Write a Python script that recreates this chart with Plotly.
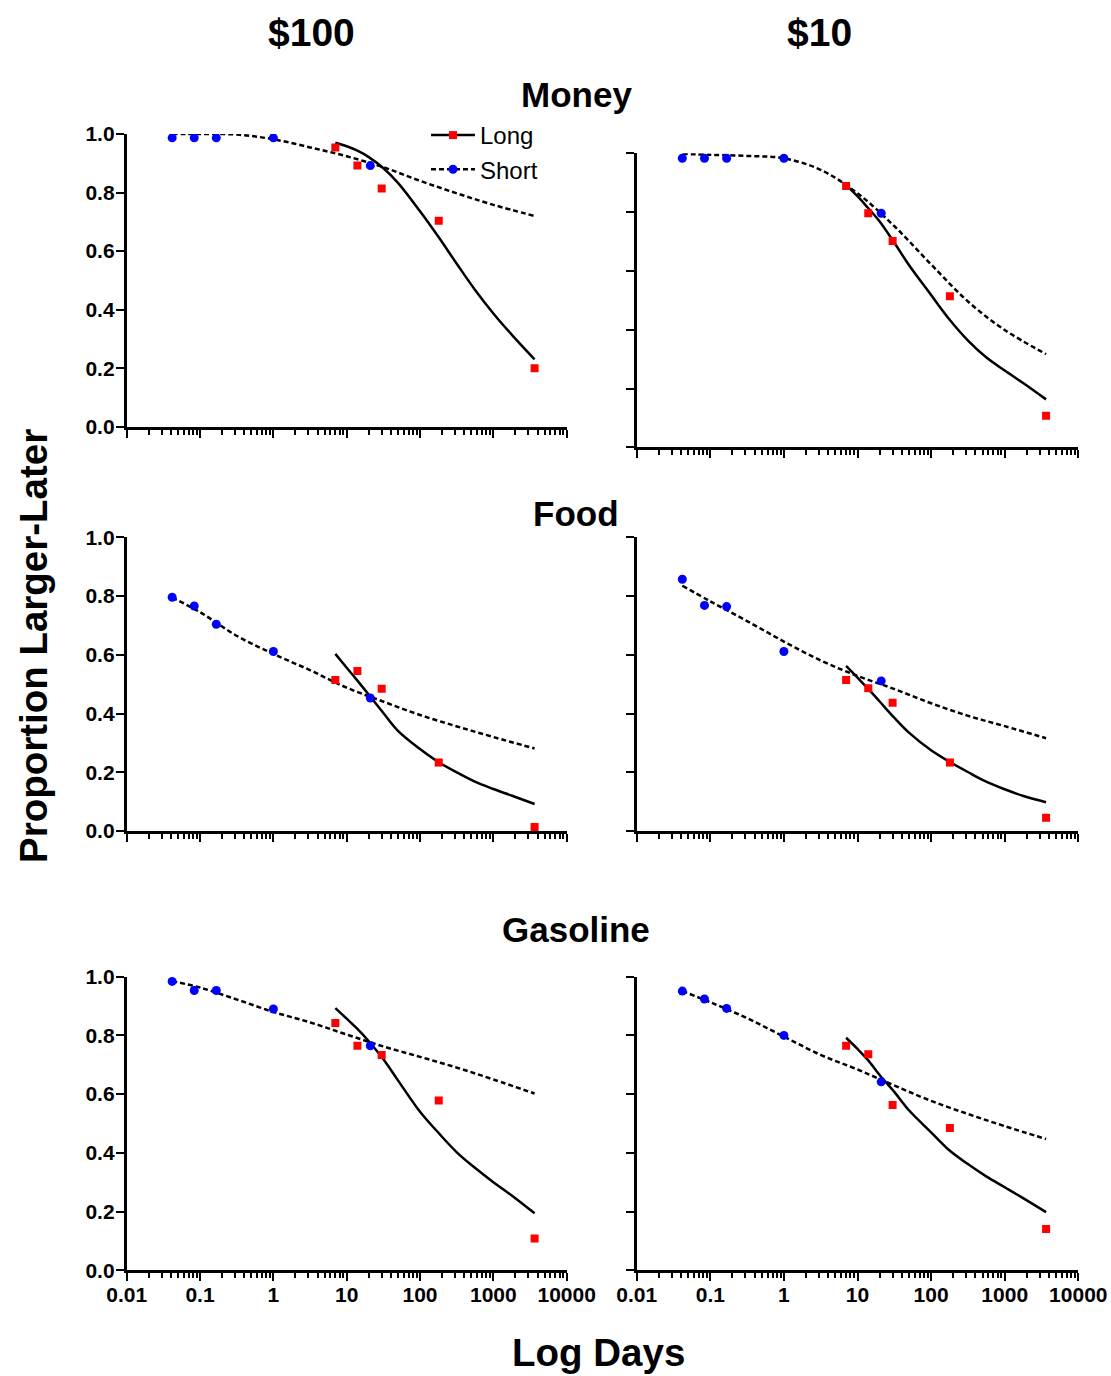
import plotly.graph_objects as go

W, H = 1111, 1376

# ---------------- data ----------------
short_days = [1/24, 1/12, 1/6, 1, 21]
long_days = [7, 14, 30, 180, 3650]

short_fit_days = [0.0417, 0.1, 0.32, 1, 3.2, 10, 32, 100, 320, 1000, 3650]
long_fit_days = [7, 10, 14, 20, 32, 50, 100, 180, 320, 560, 1000, 1800, 3650]

money100_short = [0.987, 0.987, 0.987, 0.987, 0.892]
money100_long = [0.954, 0.892, 0.814, 0.704, 0.200]
money10_short = [0.983, 0.983, 0.983, 0.983, 0.796]
money10_long = [0.889, 0.796, 0.702, 0.514, 0.107]
food100_short = [0.796, 0.766, 0.704, 0.611, 0.453]
food100_long = [0.514, 0.545, 0.484, 0.233, 0.014]
food10_short = [0.857, 0.768, 0.764, 0.611, 0.511]
food10_long = [0.514, 0.486, 0.437, 0.233, 0.045]
gas100_short = [0.984, 0.953, 0.953, 0.890, 0.765]
gas100_long = [0.842, 0.765, 0.733, 0.578, 0.108]
gas10_short = [0.951, 0.924, 0.892, 0.800, 0.642]
gas10_long = [0.765, 0.736, 0.563, 0.485, 0.141]

money100_short_fit = [1.000, 1.000, 0.998, 0.982, 0.954, 0.924, 0.886, 0.840, 0.797, 0.758, 0.720]
money100_long_fit = [0.970, 0.958, 0.943, 0.921, 0.882, 0.833, 0.736, 0.647, 0.555, 0.468, 0.387, 0.313, 0.230]
money10_short_fit = [0.998, 0.995, 0.991, 0.983, 0.943, 0.864, 0.751, 0.622, 0.495, 0.399, 0.317]
money10_long_fit = [0.892, 0.854, 0.813, 0.768, 0.694, 0.620, 0.518, 0.433, 0.362, 0.306, 0.261, 0.218, 0.163]
food100_short_fit = [0.795, 0.745, 0.664, 0.603, 0.547, 0.488, 0.440, 0.395, 0.356, 0.320, 0.281]
food100_long_fit = [0.603, 0.556, 0.512, 0.464, 0.400, 0.341, 0.279, 0.234, 0.199, 0.168, 0.143, 0.120, 0.092]
food10_short_fit = [0.835, 0.782, 0.714, 0.645, 0.580, 0.528, 0.483, 0.435, 0.392, 0.357, 0.316]
food10_long_fit = [0.562, 0.522, 0.484, 0.441, 0.384, 0.335, 0.275, 0.235, 0.200, 0.168, 0.142, 0.119, 0.098]
gas100_short_fit = [0.985, 0.963, 0.922, 0.880, 0.844, 0.803, 0.762, 0.727, 0.690, 0.650, 0.602]
gas100_long_fit = [0.893, 0.857, 0.822, 0.780, 0.717, 0.647, 0.540, 0.467, 0.401, 0.349, 0.300, 0.254, 0.194]
gas10_short_fit = [0.951, 0.913, 0.858, 0.796, 0.733, 0.684, 0.629, 0.577, 0.532, 0.491, 0.447]
gas10_long_fit = [0.792, 0.754, 0.715, 0.665, 0.606, 0.545, 0.470, 0.407, 0.361, 0.320, 0.283, 0.245, 0.198]

x_tickvals = [0.01, 0.1, 1, 10, 100, 1000, 10000]
x_ticktext = ["0.01", "0.1", "1", "10", "100", "1000", "10000"]
y_tickvals = [0, 0.2, 0.4, 0.6, 0.8, 1.0]
y_ticktext = ["0.0", "0.2", "0.4", "0.6", "0.8", "1.0"]

column_titles = ["$100", "$10"]
row_titles = ["Money", "Food", "Gasoline"]

panels = [
    (money100_short, money100_long, money100_short_fit, money100_long_fit),
    (money10_short, money10_long, money10_short_fit, money10_long_fit),
    (food100_short, food100_long, food100_short_fit, food100_long_fit),
    (food10_short, food10_long, food10_short_fit, food10_long_fit),
    (gas100_short, gas100_long, gas100_short_fit, gas100_long_fit),
    (gas10_short, gas10_long, gas10_short_fit, gas10_long_fit),
]

# ---------------- layout helpers (pixel -> paper) ----------------
def fx(p):
    return p / W

def fy(p):
    return 1 - p / H

col_x = [(126.7, 566.7), (636.7, 1078.3)]
# (top, bottom) pixel of each panel
panel_y = [(134.0, 426.7), (153.3, 447.3),
           (537.3, 831.0), (537.3, 831.0),
           (976.7, 1270.3), (976.7, 1270.3)]

FONT = "Arial, Liberation Sans, sans-serif"
BLUE = "#0000FF"
RED = "#FF0000"
DOT = "5px,3px"
TICK_SIZE = 21

fig = go.Figure()

for i, (s_pts, l_pts, s_fit, l_fit) in enumerate(panels):
    ax = "" if i == 0 else str(i + 1)
    xa, ya = "x" + ax, "y" + ax
    fig.add_trace(go.Scatter(x=short_fit_days, y=s_fit, mode="lines",
                             line=dict(color="black", width=2.5, dash=DOT,
                                       shape="spline", smoothing=1.0),
                             xaxis=xa, yaxis=ya, showlegend=False, hoverinfo="skip"))
    fig.add_trace(go.Scatter(x=long_fit_days, y=l_fit, mode="lines",
                             line=dict(color="black", width=2.5,
                                       shape="spline", smoothing=1.0),
                             xaxis=xa, yaxis=ya, showlegend=False, hoverinfo="skip"))
    fig.add_trace(go.Scatter(x=short_days, y=s_pts, mode="markers",
                             marker=dict(color=BLUE, size=9, symbol="circle"),
                             xaxis=xa, yaxis=ya, showlegend=False))
    fig.add_trace(go.Scatter(x=long_days, y=l_pts, mode="markers",
                             marker=dict(color=RED, size=8, symbol="square"),
                             xaxis=xa, yaxis=ya, showlegend=False))

# legend entries
fig.add_trace(go.Scatter(x=[None], y=[None], mode="lines+markers", name="Long",
                         line=dict(color="black", width=2.5),
                         marker=dict(color=RED, size=8, symbol="square")))
fig.add_trace(go.Scatter(x=[None], y=[None], mode="lines+markers", name="Short",
                         line=dict(color="black", width=2.5, dash=DOT),
                         marker=dict(color=BLUE, size=9, symbol="circle")))

layout = dict(
    width=W, height=H, autosize=False,
    margin=dict(l=0, r=0, t=0, b=0, pad=0, autoexpand=False),
    paper_bgcolor="white", plot_bgcolor="white",
    font=dict(family=FONT, color="black"),
    showlegend=True,
    legend=dict(x=fx(426), y=fy(113), xanchor="left", yanchor="top",
                bgcolor="rgba(0,0,0,0)", font=dict(size=24, family=FONT),
                itemwidth=44, tracegroupgap=0),
)

for i in range(6):
    r, c = divmod(i, 2)
    ax = "" if i == 0 else str(i + 1)
    top, bot = panel_y[i]
    layout["xaxis" + ax] = dict(
        type="log", range=[-2, 4], domain=[fx(col_x[c][0]), fx(col_x[c][1])],
        anchor="y" + ax, showline=True, linecolor="black", linewidth=2.7,
        ticks="outside", ticklen=8, tickwidth=2, tickcolor="black",
        tickvals=x_tickvals, ticktext=x_ticktext, showticklabels=(r == 2),
        tickfont=dict(size=TICK_SIZE, family=FONT, weight="bold"),
        ticklabelstandoff=-4,
        showgrid=False, zeroline=False, automargin=False,
        minor=dict(ticks="outside", ticklen=5, tickwidth=1.8, tickcolor="black",
                   dtick="D1", showgrid=False),
    )
    layout["yaxis" + ax] = dict(
        range=[0, 1], domain=[fy(bot), fy(top)], anchor="x" + ax,
        showline=True, linecolor="black", linewidth=2.7,
        ticks="outside", ticklen=8, tickwidth=2, tickcolor="black",
        tickvals=y_tickvals, ticktext=y_ticktext, showticklabels=(c == 0),
        tickfont=dict(size=TICK_SIZE, family=FONT, weight="bold"),
        ticklabelstandoff=-3,
        showgrid=False, zeroline=False, automargin=False,
    )

ann = []
for c, t in enumerate(column_titles):
    ann.append(dict(text=t, x=fx([311, 819][c]), y=fy(32), xref="paper", yref="paper",
                    showarrow=False, xanchor="center", yanchor="middle",
                    font=dict(size=39, family=FONT, weight="bold")))
for r, t in enumerate(row_titles):
    ann.append(dict(text=t, x=fx(576), y=fy([94, 513, 929][r]), xref="paper", yref="paper",
                    showarrow=False, xanchor="center", yanchor="middle",
                    font=dict(size=35, family=FONT, weight="bold")))
ann.append(dict(text="Proportion Larger-Later", x=fx(33), y=fy(646), xref="paper", yref="paper",
                showarrow=False, xanchor="center", yanchor="middle", textangle=-90,
                font=dict(size=38.5, family=FONT, weight="bold")))
ann.append(dict(text="Log Days", x=fx(598), y=fy(1352), xref="paper", yref="paper",
                showarrow=False, xanchor="center", yanchor="middle",
                font=dict(size=38.5, family=FONT, weight="bold")))
layout["annotations"] = ann

fig.update_layout(**layout)
fig.write_html("out.html")
